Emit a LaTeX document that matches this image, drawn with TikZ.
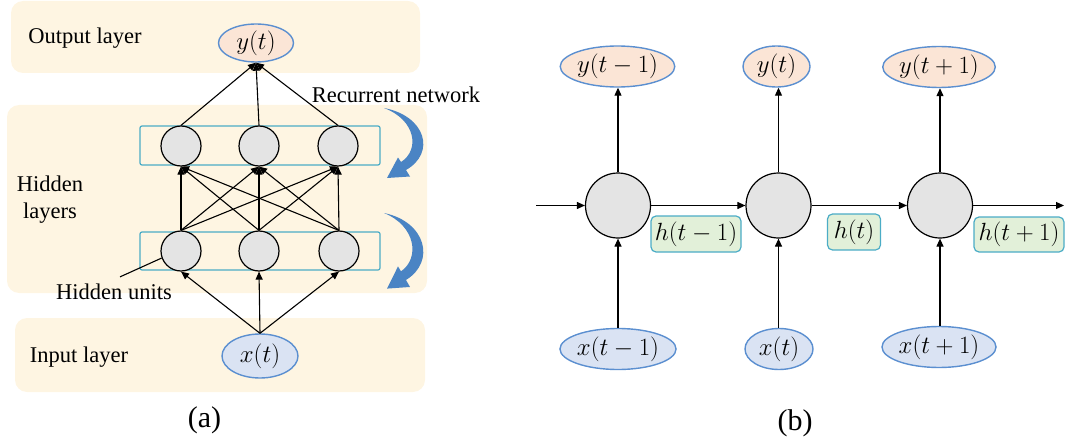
\documentclass[tikz,border=0pt]{standalone}
\usepackage{fontspec}
\setmainfont{Liberation Serif}
\usetikzlibrary{shapes.geometric,arrows.meta}

\definecolor{cream}{HTML}{FEF5E2}
\definecolor{peach}{HTML}{FBE5D6}
\definecolor{paleblue}{HTML}{DAE3F3}
\definecolor{ringblue}{HTML}{5B8FD0}
\definecolor{unitgray}{HTML}{E4E4E4}
\definecolor{rowteal}{HTML}{4BACC6}
\definecolor{palegreen}{HTML}{E2F0D9}
\definecolor{recblue}{HTML}{4A84C4}

\tikzset{
  layer/.style={fill=cream, rounded corners=12pt},
  outnode/.style={ellipse, draw=ringblue, line width=1.4pt, fill=peach, inner sep=0pt,
                  font=\fontsize{24}{28}\selectfont},
  innode/.style={ellipse, draw=ringblue, line width=1.4pt, fill=paleblue, inner sep=0pt,
                 font=\fontsize{24}{28}\selectfont},
  unit/.style={circle, draw=black, line width=1.2pt, fill=unitgray, minimum size=40pt, inner sep=0pt},
  cell/.style={unit, minimum size=65pt},
  rowbox/.style={draw=rowteal, line width=1.2pt, rounded corners=2pt,
                 minimum width=240pt, minimum height=39pt, inner sep=0pt},
  hbox/.style={draw=rowteal, fill=palegreen, line width=1.2pt, rounded corners=5pt,
               inner sep=0pt, minimum height=36pt, font=\fontsize{24}{28}\selectfont},
  conn/.style={line width=1.1pt, -{Triangle[length=8pt,width=7pt]}},
  lbl/.style={font=\fontsize{22.5}{27}\selectfont, align=center, inner sep=0pt},
  caption/.style={font=\fontsize{30}{34}\selectfont, inner sep=0pt},
  recloop/.pic={
    \fill[recblue] (0,0) .. controls (42,8) and (52,45) .. (22,62)
      -- (26,68.5) -- (3,70) -- (14,49.5) -- (17,54)
      .. controls (36,42) and (32,12) .. cycle;
  }
}

\begin{document}
\begin{tikzpicture}[x=1pt, y=-1pt]
\useasboundingbox (0,0) rectangle (1065,441);

% ---------- (a) layered recurrent network ----------
\path[layer] (11,1) rectangle (420,73);
\path[layer] (7,105) rectangle (427,293);
\path[layer] (15,318) rectangle (425,392);

\node[lbl] (outlbl) at (85,38) {Output layer};
\node[lbl] (hidlbl) at (50,200) {Hidden\\layers};
\node[lbl] (inlbl) at (79,357) {Input layer};
\node[lbl] (reclbl) at (396,95) {Recurrent network};
\node[lbl] (hu) at (114,292) {Hidden units};

\node[rowbox] (row2) at (260,145.5) {};
\node[rowbox, minimum height=38pt] (row1) at (260,251) {};

\node[outnode, minimum width=75pt, minimum height=38pt] (yt) at (256,43) {$y(t)$};
\node[innode, minimum width=76pt, minimum height=44pt] (xt) at (260,356) {$x(t)$};

\node[unit] (t1) at (181,146) {};
\node[unit] (t2) at (259,146) {};
\node[unit] (t3) at (338,146) {};
\node[unit] (b1) at (181,251) {};
\node[unit] (b2) at (259,251) {};
\node[unit] (b3) at (339,251) {};

\foreach \t in {t1,t2,t3} \draw[conn] (\t.north) -- (yt.south);
\foreach \b in {b1,b2,b3}
  \foreach \t in {t1,t2,t3} \draw[conn] (\b.north) -- (\t.south);
\foreach \b in {b1,b2,b3} \draw[conn] (xt.north) -- (\b.south);

\draw[line width=1.1pt] ([xshift=6pt,yshift=7pt]hu.north) -- (b1.200);

\pic at (384,108) {recloop};
\pic[yscale=1.08] at (384,213) {recloop};

\node[caption] (capa) at (204.5,420) {(a)};

% ---------- (b) unrolled in time ----------
\node[outnode, minimum width=101pt, minimum height=41pt] (y1) at (617.5,66.5) {$y(t-1)$};
\node[outnode, minimum width=67pt, minimum height=41pt] (y2) at (776.5,66.5) {$y(t)$};
\node[outnode, minimum width=102pt, minimum height=41pt] (y3) at (939,67) {$y(t+1)$};

\node[cell] (c1) at (618,205.5) {};
\node[cell] (c2) at (778.5,205.5) {};
\node[cell] (c3) at (940,205.5) {};

\node[innode, minimum width=101pt, minimum height=41pt] (x1) at (618,349) {$x(t-1)$};
\node[innode, minimum width=68pt, minimum height=41pt] (x2) at (779,349) {$x(t)$};
\node[innode, minimum width=102pt, minimum height=41pt] (x3) at (939,347) {$x(t+1)$};

\node[hbox, minimum width=90pt] (h1) at (696,234) {$h(t-1)$};
\node[hbox, minimum width=53pt] (h2) at (854,232) {$h(t)$};
\node[hbox, minimum width=90pt, minimum height=35pt] (h3) at (1019,234.5) {$h(t+1)$};

\coordinate (hin) at (536,205.5);
\coordinate (hout) at (1064,205.5);

\draw[conn] (hin) -- (c1.west);
\draw[conn] (c1.east) -- (c2.west);
\draw[conn] (c2.east) -- (c3.west);
\draw[conn] (c3.east) -- (hout);

\foreach \c/\y in {c1/y1,c2/y2,c3/y3} \draw[conn] (\c.north) -- (\c.north |- \y.south);
\foreach \c/\x in {c1/x1,c2/x2,c3/x3} \draw[conn] (\c.south |- \x.north) -- (\c.south);

\node[caption] (capb) at (795,423) {(b)};
\end{tikzpicture}
\end{document}
